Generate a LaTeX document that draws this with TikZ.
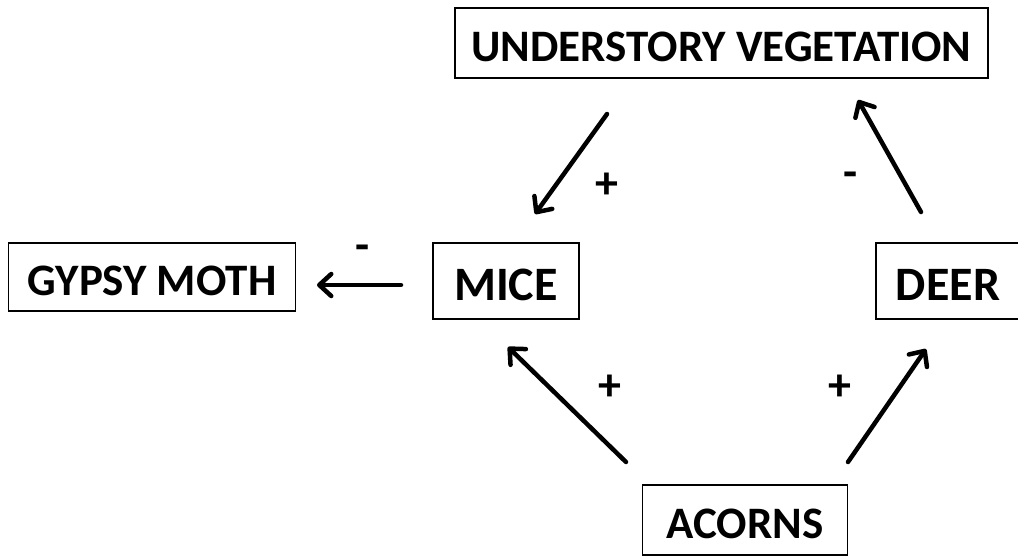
\documentclass[tikz,border=0pt]{standalone}
\usepackage{fontspec}
\setmainfont{Carlito}
\usetikzlibrary{arrows.meta}
\tikzset{
  box/.style={draw=black, line width=1.5pt, rectangle, inner sep=0pt, font=\fontsize{45}{48}\selectfont\bfseries, text height=36pt, text depth=0pt},
  bigbox/.style={box, font=\fontsize{48}{50}\selectfont\bfseries, text height=38.5pt},
  arr/.style={line width=4.5pt, line cap=round, -{Straight Barb[length=12pt,width=22pt,line cap=round,line join=round]}},
  sign/.style={inner sep=0pt, font=\fontsize{46}{48}\selectfont\bfseries}
}
\begin{document}
\begin{tikzpicture}[x=1pt,y=-1pt]
\useasboundingbox[fill=white] (0,0) rectangle (1018,558);
\node[box, minimum width=533pt, minimum height=70pt] (uv) at (721.5,43) {UNDERSTORY VEGETATION};
\node[box, minimum width=287pt, minimum height=68pt] (gm) at (152,277) {GYPSY MOTH};
\node[bigbox, minimum width=146pt, minimum height=76pt] (mice) at (506,281) {MICE};
\node[bigbox, minimum width=144pt, minimum height=76pt] (deer) at (948,281) {DEER};
\node[box, minimum width=205pt, minimum height=70pt] (acorns) at (745,520) {ACORNS};
% arrow end points
\coordinate (a1s) at (607,114); \coordinate (a1e) at (535,214);
\coordinate (a2s) at (921,212); \coordinate (a2e) at (858,100);
\coordinate (a3s) at (401,285); \coordinate (a3e) at (317,285);
\coordinate (a4s) at (626,462); \coordinate (a4e) at (508,347);
\coordinate (a5s) at (848,462); \coordinate (a5e) at (926,349);
\draw[arr] (a1s) -- (a1e);
\draw[arr] (a2s) -- (a2e);
\draw[arr] (a3s) -- (a3e);
\draw[arr] (a4s) -- (a4e);
\draw[arr] (a5s) -- (a5e);
\node[sign] (s1) at (607,186) {+};
\node[sign] (s2) at (851,180) {-};
\node[sign] (s3) at (363,253) {-};
\node[sign] (s4) at (610,388) {+};
\node[sign] (s5) at (840,388) {+};
\end{tikzpicture}
\end{document}
